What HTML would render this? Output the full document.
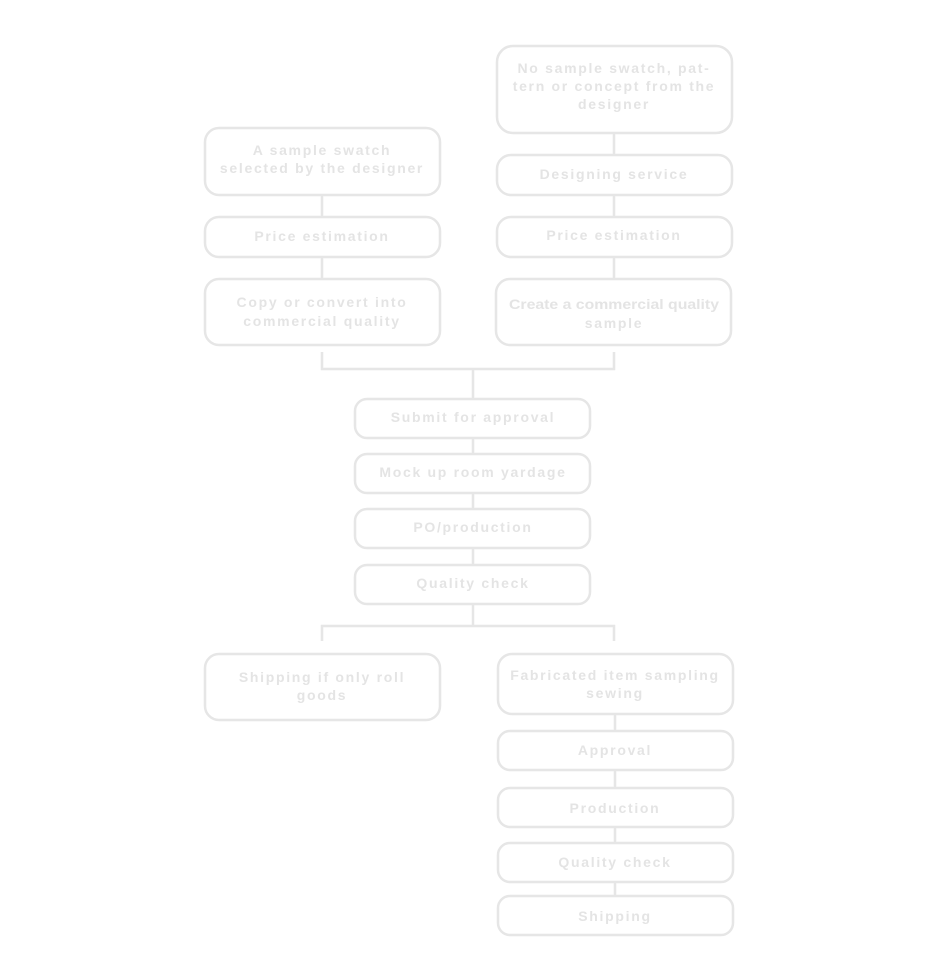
<!DOCTYPE html>
<html><head><meta charset="utf-8"><style>
html,body{margin:0;padding:0;background:#fff;}
svg{display:block;}
text{font-family:"Liberation Sans",Arial,sans-serif;font-weight:bold;font-size:14px;fill:#e4e4e4;letter-spacing:1.7px;text-anchor:middle;}
rect{fill:#fff;stroke:#e6e6e6;stroke-width:2.5;}
line,polyline{stroke:#e6e6e6;stroke-width:2.5;fill:none;}
</style></head><body>
<svg width="950" height="976" viewBox="0 0 950 976">
<line x1="322" y1="195" x2="322" y2="279"/>
<line x1="614" y1="133" x2="614" y2="279"/>
<polyline points="322,352 322,369 614,369 614,352"/>
<line x1="473" y1="369" x2="473" y2="604"/>
<line x1="473" y1="604" x2="473" y2="626"/>
<polyline points="322,641 322,626 614,626 614,641"/>
<line x1="615" y1="714" x2="615" y2="935"/>
<rect x="205" y="128" width="235" height="67" rx="14"/>
<text x="322" y="155">A sample swatch</text>
<text x="322" y="173">selected by the designer</text>
<rect x="205" y="217" width="235" height="40" rx="14"/>
<text x="322" y="241">Price estimation</text>
<rect x="205" y="279" width="235" height="66" rx="14"/>
<text x="322" y="307">Copy or convert into</text>
<text x="322" y="326">commercial quality</text>
<rect x="497" y="46" width="235" height="87" rx="16"/>
<text x="614" y="73">No sample swatch, pat-</text>
<text x="614" y="91">tern or concept from the</text>
<text x="614" y="109">designer</text>
<rect x="497" y="155" width="235" height="40" rx="14"/>
<text x="614" y="179">Designing service</text>
<rect x="497" y="217" width="235" height="40" rx="14"/>
<text x="614" y="240">Price estimation</text>
<rect x="496" y="279" width="235" height="66" rx="14"/>
<text x="614" y="309" textLength="210" lengthAdjust="spacingAndGlyphs" style="letter-spacing:0">Create a commercial quality</text>
<text x="614" y="328">sample</text>
<rect x="355" y="399" width="235" height="39" rx="12"/>
<text x="473" y="422">Submit for approval</text>
<rect x="355" y="454" width="235" height="39" rx="12"/>
<text x="473" y="477">Mock up room yardage</text>
<rect x="355" y="509" width="235" height="39" rx="12"/>
<text x="473" y="532">PO/production</text>
<rect x="355" y="565" width="235" height="39" rx="12"/>
<text x="473" y="588">Quality check</text>
<rect x="205" y="654" width="235" height="66" rx="14"/>
<text x="322" y="682">Shipping if only roll</text>
<text x="322" y="700">goods</text>
<rect x="498" y="654" width="235" height="60" rx="14"/>
<text x="615" y="680">Fabricated item sampling</text>
<text x="615" y="698">sewing</text>
<rect x="498" y="731" width="235" height="39" rx="12"/>
<text x="615" y="755">Approval</text>
<rect x="498" y="788" width="235" height="39" rx="12"/>
<text x="615" y="813">Production</text>
<rect x="498" y="843" width="235" height="39" rx="12"/>
<text x="615" y="867">Quality check</text>
<rect x="498" y="896" width="235" height="39" rx="12"/>
<text x="615" y="921">Shipping</text>
</svg>
</body></html>
